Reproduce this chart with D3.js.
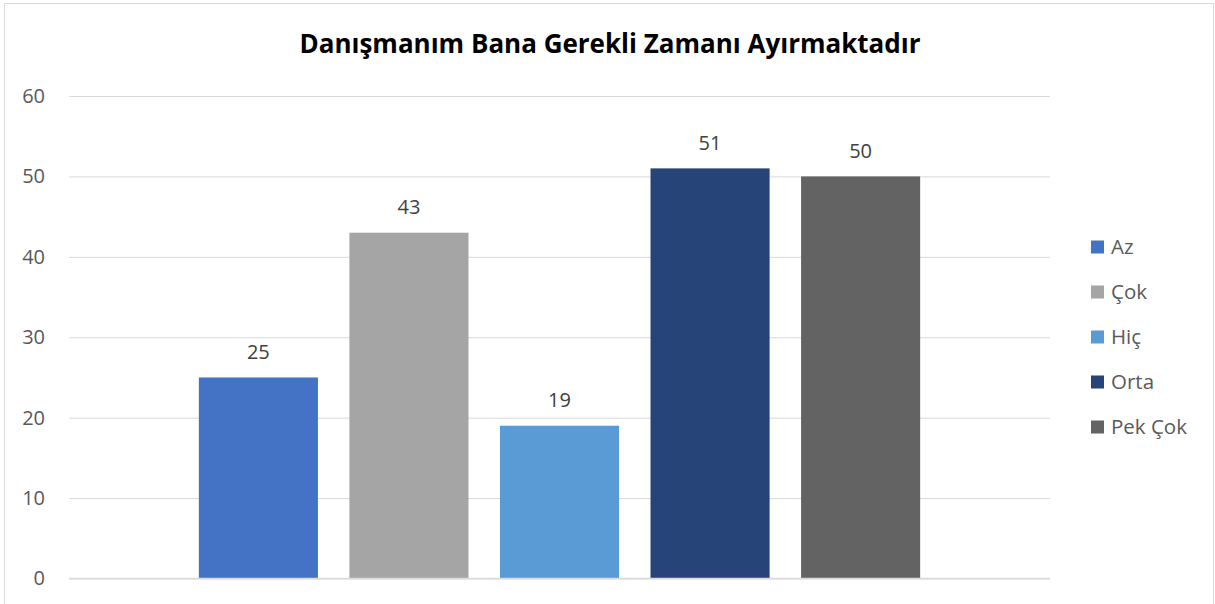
<!DOCTYPE html>
<html>
<head>
<meta charset="utf-8">
<script src="https://cdn.jsdelivr.net/npm/d3@7"></script>
<style>
  body { margin: 0; background: #fff; }
  text { font-family: "Open Sans", "Noto Sans", sans-serif; }
</style>
</head>
<body>
<div id="chart"></div>
<script>
// chart data
var title = "Danışmanım Bana Gerekli Zamanı Ayırmaktadır";
var categories = [""];
var seriesNames = ["Az", "Çok", "Hiç", "Orta", "Pek Çok"];
var seriesValues = [25, 43, 19, 51, 50];
var seriesColors = ["#4472C4", "#A5A5A5", "#5B9BD5", "#264478", "#636363"];
var yTicks = [0, 10, 20, 30, 40, 50, 60];

var W = 1215, H = 604;
var plot = { left: 69, right: 1050, top: 96, bottom: 578.5 };

var svg = d3.select("#chart").append("svg")
    .attr("width", W)
    .attr("height", H);

// outer frame
svg.append("rect")
    .attr("x", 4.5).attr("y", 3.5)
    .attr("width", 1209).attr("height", 610)
    .attr("fill", "#fff")
    .attr("stroke", "#D9D9D9");

svg.append("text")
    .attr("x", 610).attr("y", 53)
    .attr("text-anchor", "middle")
    .attr("font-size", 26)
    .attr("font-weight", "bold")
    .attr("fill", "#000")
    .text(title);

var y = d3.scaleLinear().domain([0, 60]).range([plot.bottom, plot.top]);

var x0 = d3.scaleBand().domain(categories)
    .range([plot.left, plot.right])
    .paddingInner(0).paddingOuter(0.18);

var x1 = d3.scaleBand().domain(seriesNames)
    .range([0, x0.bandwidth()])
    .paddingInner(0.209).paddingOuter(0);

// gridlines
var yAxis = d3.axisLeft(y).tickValues(yTicks)
    .tickSize(-(plot.right - plot.left))
    .tickPadding(24);

var ga = svg.append("g")
    .attr("transform", "translate(" + plot.left + ",0)")
    .call(yAxis);
ga.select(".domain").remove();
ga.selectAll(".tick line").attr("stroke", "#D9D9D9").attr("stroke-width", 1);
ga.selectAll(".tick text")
    .attr("font-size", 20)
    .attr("fill", "#595959")
    .style("font-family", "'Open Sans', sans-serif");

var data = seriesNames.map(function(n, i) {
    return { name: n, value: seriesValues[i], color: seriesColors[i] };
});

var grp = svg.append("g")
    .attr("transform", "translate(" + x0(categories[0]) + ",0)");

grp.selectAll("rect").data(data).enter()
    .append("rect")
    .attr("x", function(d) { return x1(d.name); })
    .attr("y", function(d) { return y(d.value); })
    .attr("width", x1.bandwidth())
    .attr("height", function(d) { return y(0) - y(d.value); })
    .attr("fill", function(d) { return d.color; });

// value labels
grp.selectAll("text.val").data(data).enter()
    .append("text")
    .attr("class", "val")
    .attr("x", function(d) { return x1(d.name) + x1.bandwidth() / 2; })
    .attr("y", function(d) { return y(d.value) - 18.5; })
    .attr("text-anchor", "middle")
    .attr("font-size", 20)
    .attr("fill", "#404040")
    .text(function(d) { return d.value; });

// zero line on top
svg.append("line")
    .attr("x1", plot.left).attr("x2", plot.right)
    .attr("y1", y(0)).attr("y2", y(0))
    .attr("stroke", "#D9D9D9").attr("stroke-width", 1.5);

// legend
var leg = svg.append("g").attr("transform", "translate(1091,247)");
var items = leg.selectAll("g").data(data).enter()
    .append("g")
    .attr("transform", function(d, i) { return "translate(0," + (i * 45) + ")"; });
items.append("rect")
    .attr("x", 0).attr("y", -6.5)
    .attr("width", 13).attr("height", 13)
    .attr("fill", function(d) { return d.color; });
items.append("text")
    .attr("x", 20).attr("y", 0)
    .attr("dy", "0.35em")
    .attr("font-size", 20.5)
    .attr("fill", "#595959")
    .text(function(d) { return d.name; });
</script>
</body>
</html>
